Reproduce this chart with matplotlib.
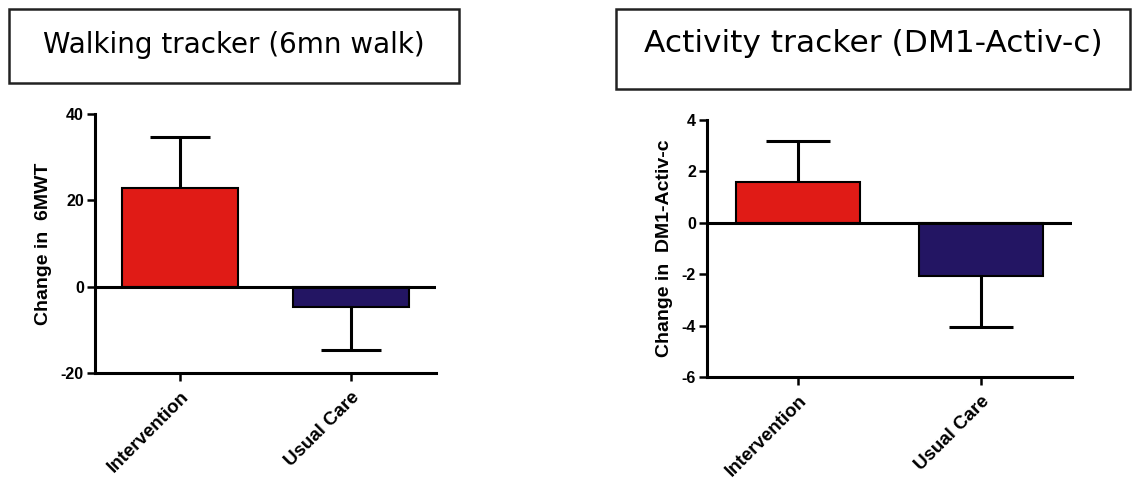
import matplotlib
matplotlib.use("Agg")
import matplotlib.pyplot as plt
from matplotlib.patches import Rectangle

plt.rcParams['axes.unicode_minus'] = False

# data
groups = ["Intervention", "Usual Care"]
bar_colors = ["#e01b16", "#231563"]

walk_title = "Walking tracker (6mn walk)"
walk_mean = [22.9, -4.6]
walk_err = [11.8, 10.0]
walk_ticks = [-20, 0, 20, 40]

activ_title = "Activity tracker (DM1-Activ-c)"
activ_mean = [1.6, -2.07]
activ_err = [1.6, 2.0]
activ_ticks = [-6, -4, -2, 0, 2, 4]

W, H = 1134, 480
fig = plt.figure(figsize=(W / 100, H / 100), dpi=100)


def fx(px):
    return px / W


def fy(py):
    return 1 - py / H


def title_box(x0, y0, x1, y1, text, ty, size):
    fig.add_artist(Rectangle((fx(x0), fy(y1)), fx(x1) - fx(x0), fy(y0) - fy(y1),
                             transform=fig.transFigure, fill=False,
                             edgecolor="#222222", lw=1.8))
    fig.text(fx((x0 + x1) / 2), fy(ty), text, ha="center", va="center",
             fontsize=size, family="DejaVu Sans", color="black")


def bar_panel(rect, means, errs, ticks, ylabel):
    ax = fig.add_axes(rect)
    x = list(range(len(groups)))
    ax.bar(x, means, width=0.68, color=bar_colors, edgecolor="black",
           linewidth=1.5, zorder=2)
    # one sided error bars, pointing away from zero, no cap at the bar end
    for xi, m, e in zip(x, means, errs):
        tip = m + e if m >= 0 else m - e
        ax.vlines(xi, m, tip, color="black", lw=2.2, zorder=1)
        ax.hlines(tip, xi - 0.175, xi + 0.175, color="black", lw=2.2, zorder=1)
    ax.axhline(0, color="black", lw=2.2, zorder=3)
    ax.set_xlim(-0.5, 1.5)
    ax.set_ylim(ticks[0], ticks[-1])
    ax.set_yticks(ticks)
    ax.set_yticklabels([str(t) for t in ticks], fontweight="bold", fontsize=11.5,
                       family="Liberation Sans")
    ax.set_xticks(x)
    ax.set_xticklabels(groups, rotation=45, ha="right", rotation_mode="anchor",
                       fontweight="bold", fontsize=13.5, family="Liberation Sans")
    ax.tick_params(axis="both", direction="out", length=6, width=1.8, pad=2)
    ax.tick_params(axis="x", pad=5)
    for s in ["top", "right"]:
        ax.spines[s].set_visible(False)
    for s in ["left", "bottom"]:
        ax.spines[s].set_linewidth(2.2)
    ax.set_ylabel(ylabel, fontweight="bold", fontsize=14,
                  family="Liberation Sans", labelpad=6)
    ax.patch.set_alpha(0)
    return ax


title_box(9, 9, 459, 83, walk_title, 45, 20)
title_box(616, 9, 1130, 89, activ_title, 43, 22.5)

bar_panel([fx(95), fy(373), fx(436) - fx(95), fy(114) - fy(373)],
          walk_mean, walk_err, walk_ticks, "Change in  6MWT")
bar_panel([fx(707), fy(377), fx(1072) - fx(707), fy(120) - fy(377)],
          activ_mean, activ_err, activ_ticks, "Change in  DM1-Activ-c")

fig.savefig("out.png", dpi=100)
